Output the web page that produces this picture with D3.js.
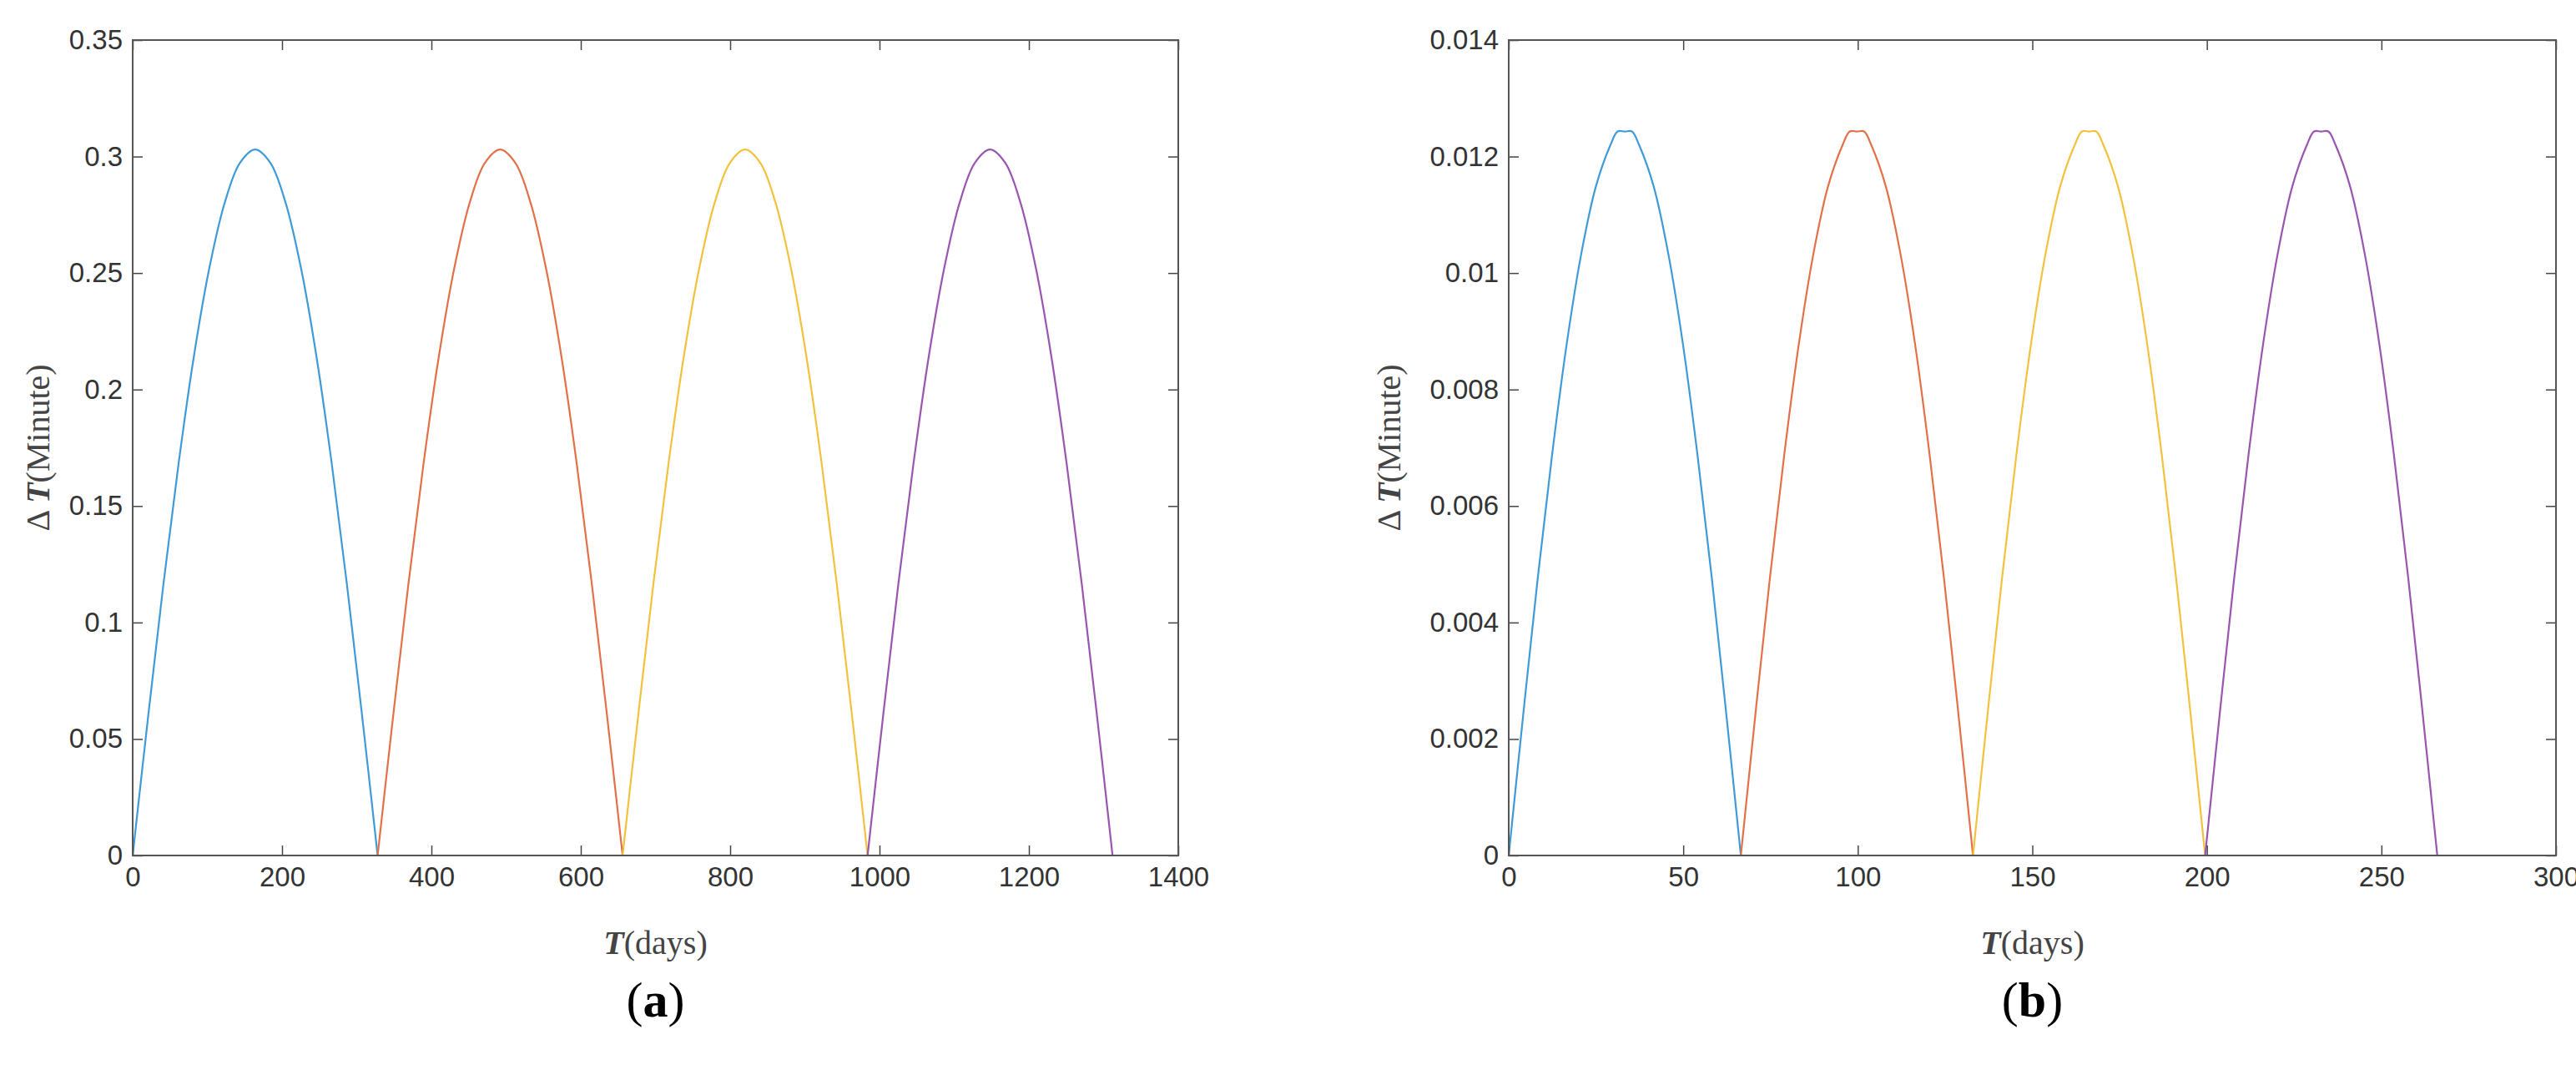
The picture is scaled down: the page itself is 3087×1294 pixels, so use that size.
<!DOCTYPE html>
<html><head><meta charset="utf-8">
<script src="https://cdn.jsdelivr.net/npm/d3@7"></script>
<style>body{margin:0;background:#fff}</style></head>
<body><svg id="c" width="3087" height="1294"></svg>
<script>
// Panel (a) data
const aX = [0,20.5,41,61.5,82,102.5,123,143.5,164,184.5,205,225.5,246,266.5,287,307.5,328];
const arcA = [0,0.0591,0.1160,0.1683,0.2143,0.2519,0.2799,0.2972,0.3030,0.2972,0.2799,0.2519,0.2143,0.1683,0.1160,0.0591,0];
const aOffsets = [0,328,656,984];
const aXTicks = [0,200,400,600,800,1000,1200,1400];
const aYTicks = [0,0.05,0.1,0.15,0.2,0.25,0.3,0.35];
// Panel (b) data
const bX = [0,4.16,8.31,12.47,16.63,20.78,24.94,29.09,31.2,33.25,35.3,37.41,41.56,45.72,49.88,54.03,58.19,62.34,66.5];
const arcB = [0,0.00242,0.00476,0.00690,0.00879,0.01033,0.01148,0.01219,0.01243,0.01243,0.01243,0.01219,0.01148,0.01033,0.00879,0.00690,0.00476,0.00242,0];
const bOffsets = [0,66.5,133,199.5];
const bXTicks = [0,50,100,150,200,250,300];
const bYTicks = [0,0.002,0.004,0.006,0.008,0.01,0.012,0.014];
const colors = ['#3f9bd8','#e2714a','#f2c23e','#9a55b0'];

const svg = d3.select('#c');
function panel(x0,x1,xMax,yMax,xt,yt,xs,ys,offs,label){
  const top=48,bot=1025;
  const x=d3.scaleLinear().domain([0,xMax]).range([x0,x1]);
  const y=d3.scaleLinear().domain([0,yMax]).range([bot,top]);
  const g=svg.append('g');
  const line=d3.line().x(d=>x(d[0])).y(d=>y(d[1])).curve(d3.curveCatmullRom);
  offs.forEach((o,i)=>{
    g.append('path').datum(xs.map((v,j)=>[v+o,ys[j]]))
     .attr('d',line).attr('fill','none').attr('stroke',colors[i]).attr('stroke-width',2.2);
  });
  const style=s=>{s.selectAll('path.domain').remove();s.selectAll('line').attr('stroke','#444').attr('stroke-width',1.5);
    s.selectAll('text').attr('font-family','Liberation Sans, Arial, sans-serif').attr('font-size',33).attr('fill','#333');};
  const fmt=d=>String(d);
  g.append('g').attr('transform',`translate(0,${bot})`).call(d3.axisBottom(x).tickValues(xt).tickSize(-12).tickPadding(14).tickFormat(fmt)).call(style);
  g.append('g').attr('transform',`translate(0,${top})`).call(d3.axisTop(x).tickValues(xt).tickSize(-12).tickFormat('')).call(style);
  g.append('g').attr('transform',`translate(${x0},0)`).call(d3.axisLeft(y).tickValues(yt).tickSize(-12).tickPadding(12).tickFormat(fmt)).call(style);
  g.append('g').attr('transform',`translate(${x1},0)`).call(d3.axisRight(y).tickValues(yt).tickSize(-12).tickFormat('')).call(style);
  g.append('rect').attr('x',x0).attr('y',top).attr('width',x1-x0).attr('height',bot-top).attr('fill','none').attr('stroke','#555').attr('stroke-width',2);
  const cx=(x0+x1)/2;
  const xl=g.append('text').attr('x',cx).attr('y',1143).attr('text-anchor','middle').attr('font-family','Liberation Serif, serif').attr('font-size',40).attr('fill','#444');
  xl.append('tspan').attr('font-weight','bold').attr('font-style','italic').text('T');
  xl.append('tspan').text('(days)');
  const yoff = label==='a'?100:130;
  const yl=g.append('text').attr('transform',`translate(${x0-yoff},${(top+bot)/2}) rotate(-90)`).attr('text-anchor','middle').attr('font-family','Liberation Serif, serif').attr('font-size',40).attr('fill','#444');
  yl.append('tspan').text('Δ ');
  yl.append('tspan').attr('font-weight','bold').attr('font-style','italic').text('T');
  yl.append('tspan').text('(Minute)');
  const pl=g.append('text').attr('x',cx).attr('y',1218).attr('text-anchor','middle').attr('font-family','Liberation Serif, serif').attr('font-size',60).attr('fill','#000');
  pl.append('tspan').text('(');pl.append('tspan').attr('font-weight','bold').text(label);pl.append('tspan').text(')');
}
panel(159,1412,1400,0.35,aXTicks,aYTicks,aX,arcA,aOffsets,'a');
panel(1808,3063,300,0.014,bXTicks,bYTicks,bX,arcB,bOffsets,'b');
</script></body></html>
